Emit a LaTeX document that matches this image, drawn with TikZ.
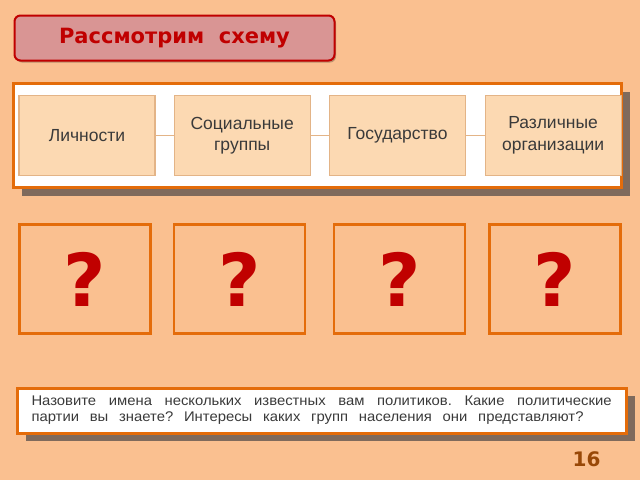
\documentclass[tikz,border=0pt]{standalone}
\usepackage{fontspec}
\setmainfont{Liberation Sans}
\newfontfamily\dejavu{DejaVu Sans}
\newfontfamily\widesans[FakeStretch=1.06]{Liberation Sans}
\usepackage{xcolor}
\usepackage{tikz}
\usetikzlibrary{positioning,shadows}

\definecolor{bgpeach}{HTML}{FAC090}
\definecolor{titlefill}{HTML}{D99594}
\definecolor{darkred}{HTML}{C00000}
\definecolor{frameorange}{HTML}{E46C0A}
\definecolor{cellfill}{HTML}{FCD9B2}
\definecolor{celledge}{HTML}{E3B487}
\definecolor{shadowgrey}{HTML}{7F6A5C}
\definecolor{textgrey}{HTML}{3A3A3A}
\definecolor{pagebrown}{HTML}{984807}

\tikzset{
  cell/.style={draw=celledge, fill=cellfill, line width=1.2pt, minimum width=136pt,
    minimum height=80pt, inner sep=0pt, align=center, text=textgrey,
    font=\fontsize{17.5}{21.5}\selectfont},
  qbox/.style={draw=frameorange, line width=2.5pt, minimum width=131pt,
    minimum height=109pt, inner sep=0pt, text=darkred,
    font=\dejavu\bfseries\fontsize{73}{73}\selectfont},
  frame/.style={draw=frameorange, fill=white, line width=3pt, inner sep=0pt,
    drop shadow={shadow xshift=8pt, shadow yshift=-8pt, fill=shadowgrey, opacity=1}},
}

\begin{document}
\begin{tikzpicture}[x=1pt, y=-1pt]

\useasboundingbox[fill=bgpeach] (0,0) rectangle (640,480);

% title %
\node[draw=darkred, fill=titlefill, line width=2pt, rounded corners=6pt,
  minimum width=320pt, minimum height=45pt, inner sep=0pt,
  drop shadow={shadow xshift=1.5pt, shadow yshift=-2pt, fill=black, opacity=0.25},
  text=darkred, font=\dejavu\bfseries\fontsize{21}{24}\selectfont]
  (title) at (174.5,38) {Рассмотрим\ \ схему};

% scheme %
\node[frame, minimum width=608pt, minimum height=104pt] (scheme) at (317.5,135.5) {};

\node[cell] (pers) at (87,135.5) {Личности};
\node[cell, right = 18pt of pers] (groups) {Социальные\\группы};
\node[cell, right = 18pt of groups] (state) {Государство};
\node[cell, right = 18.5pt of state] (orgs) {Различные\\организации};

\draw[celledge, line width=1.2pt] (pers) -- (groups);
\draw[celledge, line width=1.2pt] (groups) -- (state);
\draw[celledge, line width=1.2pt] (state) -- (orgs);

% question marks %
\node[qbox] (q1) at (85,279) {?};
\node[qbox] (q2) at (239.5,279) {?};
\node[qbox] (q3) at (399.5,279) {?};
\node[qbox] (q4) at (555,279) {?};

% question text %
\node[frame, minimum width=609pt, minimum height=45pt, text=textgrey] (task) at (322,410.5)
  {\parbox{581pt}{\widesans\fontsize{14}{16}\selectfont\frenchspacing
   \makebox[580pt][s]{Назовите имена нескольких известных вам политиков. Какие политические}\\
   \makebox[552pt][s]{партии вы знаете? Интересы каких групп населения они представляют?}}};

% page number %
\node[text=pagebrown, font=\dejavu\bfseries\fontsize{20}{20}\selectfont] (page) at (586.5,459) {16};

\end{tikzpicture}
\end{document}
